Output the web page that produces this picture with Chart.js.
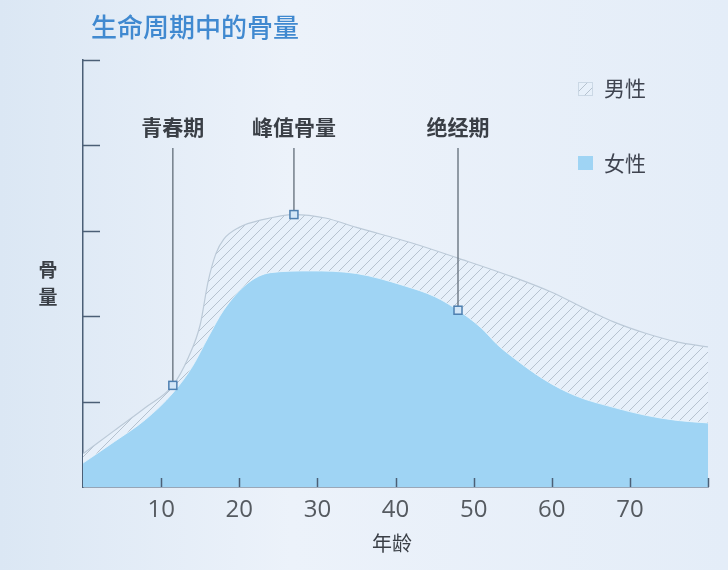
<!DOCTYPE html>
<html>
<head>
<meta charset="utf-8">
<script src="https://cdn.jsdelivr.net/npm/chart.js@4.4.1/dist/chart.umd.min.js"></script>
<style>
  html, body { margin: 0; padding: 0; background: #e8eff8; }
  #wrap { width: 728px; height: 570px; position: relative; }
</style>
</head>
<body>
<div id="wrap"><canvas id="c" width="728" height="570"></canvas></div>
<script>
// ---- data ----
const maleAges = [0, 4, 8, 11.5, 13.5, 15, 16, 17, 18, 20, 23, 27, 31, 35, 42, 48, 55, 60, 64, 68, 72, 76, 80];
const maleValues = [0.39, 0.66, 0.93, 1.19, 1.52, 1.90, 2.40, 2.73, 2.90, 3.04, 3.13, 3.19, 3.15, 3.04, 2.86, 2.68, 2.46, 2.28, 2.10, 1.93, 1.80, 1.70, 1.64];
const femaleAges = [0, 4, 8, 11.5, 14, 16, 18, 21, 24, 29, 35, 41, 45, 48, 51, 53, 55, 59, 63, 68, 72, 76, 80];
const femaleValues = [0.28, 0.53, 0.79, 1.10, 1.41, 1.75, 2.07, 2.38, 2.51, 2.53, 2.50, 2.36, 2.23, 2.07, 1.86, 1.67, 1.52, 1.26, 1.07, 0.93, 0.84, 0.78, 0.75];
const xTicks = [10, 20, 30, 40, 50, 60, 70, 80];
const yTicks = [1, 2, 3, 4, 5];
const seriesNames = ['女性', '男性'];
const annoLabels = ['青春期', '峰值骨量', '绝经期'];
const annoAges = [11.5, 27, 48];
const annoValues = [1.19, 3.19, 2.07];
const chartTitle = '生命周期中的骨量';
const xTitle = '年龄';
const yTitle = '骨量';

const CJK = '"Noto Sans CJK SC", "Noto Sans", sans-serif';

// hatch pattern
function makeHatch() {
  const s = 10;
  const p = document.createElement('canvas');
  p.width = s; p.height = s;
  const g = p.getContext('2d');
  g.fillStyle = 'rgba(231,240,250,1)';
  g.fillRect(0, 0, s, s);
  g.strokeStyle = 'rgba(140,154,170,0.6)';
  g.lineWidth = 0.9;
  g.beginPath();
  g.moveTo(0, s); g.lineTo(s, 0);
  g.moveTo(-1, 1); g.lineTo(1, -1);
  g.moveTo(s - 1, s + 1); g.lineTo(s + 1, s - 1);
  g.stroke();
  return g.createPattern(p, 'repeat');
}
const hatch = makeHatch();

const femaleColor = '#9fd4f4';
const axisColor = '#4b5f76';

const bgPlugin = {
  id: 'bg',
  beforeDraw(chart) {
    const ctx = chart.ctx;
    const w = chart.width, h = chart.height;
    const gr = ctx.createLinearGradient(0, 0, w, 0);
    gr.addColorStop(0, '#dbe7f4');
    gr.addColorStop(0.4, '#ecf2fa');
    gr.addColorStop(1, '#e4edf8');
    ctx.save();
    ctx.fillStyle = gr;
    ctx.fillRect(0, 0, w, h);
    ctx.restore();
  }
};

const overlay = {
  id: 'overlay',
  afterDraw(chart) {
    const ctx = chart.ctx;
    const xs = chart.scales.x, ys = chart.scales.y;
    const area = chart.chartArea;
    ctx.save();
    // inward ticks
    ctx.strokeStyle = axisColor;
    ctx.lineWidth = 1.5;
    ctx.beginPath();
    yTicks.forEach(v => {
      const py = Math.round(ys.getPixelForValue(v)) + 0.5;
      ctx.moveTo(area.left, py); ctx.lineTo(area.left + 17, py);
    });
    xTicks.forEach(v => {
      const px = Math.round(xs.getPixelForValue(v)) + 0.5;
      ctx.moveTo(px, area.bottom); ctx.lineTo(px, area.bottom - 9);
    });
    ctx.stroke();

    // annotations
    ctx.textAlign = 'center';
    ctx.textBaseline = 'middle';
    annoLabels.forEach((lab, i) => {
      const px = xs.getPixelForValue(annoAges[i]);
      const py = ys.getPixelForValue(annoValues[i]);
      ctx.fillStyle = '#3a3f46';
      ctx.font = 'bold 21px ' + CJK;
      ctx.fillText(lab, px, 127);
      ctx.strokeStyle = '#6b7682';
      ctx.lineWidth = 1.4;
      ctx.beginPath();
      ctx.moveTo(px, 148); ctx.lineTo(px, py - 4);
      ctx.stroke();
      ctx.fillStyle = '#d3e6f7';
      ctx.strokeStyle = '#4d7fb0';
      ctx.lineWidth = 1.5;
      ctx.fillRect(px - 4, py - 4, 8, 8);
      ctx.strokeRect(px - 4, py - 4, 8, 8);
    });

    // title
    ctx.textAlign = 'left';
    ctx.fillStyle = '#4089d0';
    ctx.font = '500 26px ' + CJK;
    ctx.fillText(chartTitle, 91, 27);

    // legend
    ctx.fillStyle = hatch;
    ctx.fillRect(578, 82, 15, 14);
    ctx.strokeStyle = 'rgba(200,213,226,0.9)';
    ctx.lineWidth = 1;
    ctx.strokeRect(578.5, 82.5, 14, 13);
    ctx.fillStyle = femaleColor;
    ctx.fillRect(578, 156, 15, 14);
    ctx.fillStyle = '#3f4450';
    ctx.font = '21px ' + CJK;
    ctx.fillText(seriesNames[1], 604, 88);
    ctx.fillText(seriesNames[0], 604, 163);

    // axis titles
    ctx.textAlign = 'center';
    ctx.fillStyle = '#3a3f46';
    ctx.font = 'bold 19px ' + CJK;
    ctx.fillText(yTitle[0], 48, 270);
    ctx.fillText(yTitle[1], 48, 297);
    ctx.font = '20px ' + CJK;
    ctx.fillText(xTitle, 392, 543);
    ctx.restore();
  }
};

new Chart(document.getElementById('c'), {
  type: 'line',
  data: {
    datasets: [
      {
        label: seriesNames[0],
        data: femaleAges.map((a, i) => ({ x: a, y: femaleValues[i] })),
        borderColor: 'rgba(235,245,252,0.8)',
        borderWidth: 1,
        backgroundColor: femaleColor,
        fill: 'origin',
        pointRadius: 0,
        cubicInterpolationMode: 'monotone'
      },
      {
        label: seriesNames[1],
        data: maleAges.map((a, i) => ({ x: a, y: maleValues[i] })),
        borderColor: '#bccad8',
        borderWidth: 1.2,
        backgroundColor: hatch,
        fill: '-1',
        pointRadius: 0,
        cubicInterpolationMode: 'monotone'
      }
    ]
  },
  options: {
    responsive: false,
    animation: false,
    devicePixelRatio: 1,
    layout: { padding: { left: 83, right: 20, top: 60, bottom: 0 } },
    plugins: { legend: { display: false }, tooltip: { enabled: false }, title: { display: false } },
    scales: {
      x: {
        type: 'linear', min: 0, max: 80,
        grid: { display: false },
        border: { display: true, color: axisColor, width: 1.5 },
        ticks: {
          stepSize: 10,
          padding: 1,
          color: '#555a60',
          font: { family: '"Open Sans", "Noto Sans", sans-serif', size: 24 },
          callback: v => (v === 0 || v === 80) ? '' : v
        },
        afterFit: s => { s.height = 83; }
      },
      y: {
        min: 0, max: 5,
        grid: { display: false },
        border: { display: true, color: axisColor, width: 1.5 },
        ticks: { display: false, stepSize: 1 },
        afterFit: s => { s.width = 0; }
      }
    }
  },
  plugins: [bgPlugin, overlay]
});
</script>
</body>
</html>
